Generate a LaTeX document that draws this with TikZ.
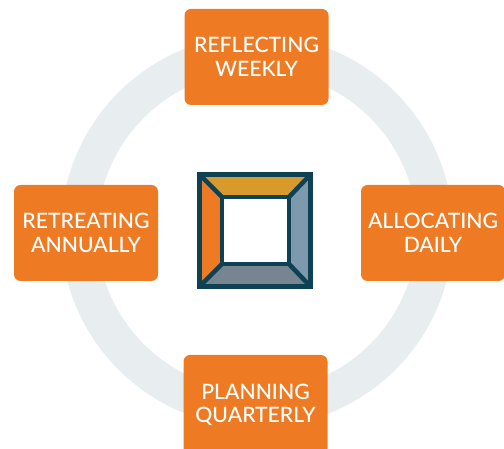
\documentclass[tikz,border=0pt]{standalone}
\usepackage{fontspec}
\setmainfont{Lato Medium}
\usetikzlibrary{positioning}
\definecolor{myorange}{HTML}{EE7B23}
\definecolor{myring}{HTML}{E8EDEF}
\definecolor{myteal}{HTML}{0D4153}
\definecolor{mygold}{HTML}{D89B2B}
\definecolor{mysteel}{HTML}{7C99AE}
\definecolor{myslate}{HTML}{76858F}
\tikzstyle{habit}=[fill=myorange,text=white,rounded corners=6.5pt,minimum width=144pt,minimum height=96pt,inner sep=0pt,align=center,font=\fontsize{21.2pt}{23.5pt}\selectfont]
\tikzstyle{wall}=[draw=myteal,line width=4.5pt,line join=miter]
\begin{document}
\begin{tikzpicture}[x=1pt,y=-1pt]
	\useasboundingbox (0,0) rectangle (504,449);
	\clip (0,0) rectangle (504,449);
	\draw[myring,line width=36pt] (257,231) circle (178);

	\node[habit] (reflect) at (256.5,57) {REFLECTING\\WEEKLY};
	\node[habit] (retreat) at (86,233) {RETREATING\\ANNUALLY};
	\node[habit] (allocate) at (433,233) {ALLOCATING\\DAILY};
	\node[habit,minimum height=100pt] (plan) at (255.5,405) {PLANNING\\QUARTERLY};

	\coordinate (a) at (199.5,174.5);
	\coordinate (b) at (310.5,174.5);
	\coordinate (c) at (310.5,286.5);
	\coordinate (d) at (199.5,286.5);
	\coordinate (e) at (222,197);
	\coordinate (f) at (289,197);
	\coordinate (g) at (289,264);
	\coordinate (h) at (222,264);
	\fill[white] (e) -- (f) -- (g) -- (h) -- cycle;
	\fill[mygold] (a) -- (b) -- (f) -- (e) -- cycle;
	\fill[mysteel] (b) -- (c) -- (g) -- (f) -- cycle;
	\fill[myslate] (c) -- (d) -- (h) -- (g) -- cycle;
	\fill[myorange] (d) -- (a) -- (e) -- (h) -- cycle;
	\draw[wall] (a) rectangle (c);
	\draw[wall] (e) rectangle (g);
	\foreach \x / \y in {a/e,b/f,c/g,d/h} { \draw[wall] (\x) -- (\y);}
\end{tikzpicture}
\end{document}
